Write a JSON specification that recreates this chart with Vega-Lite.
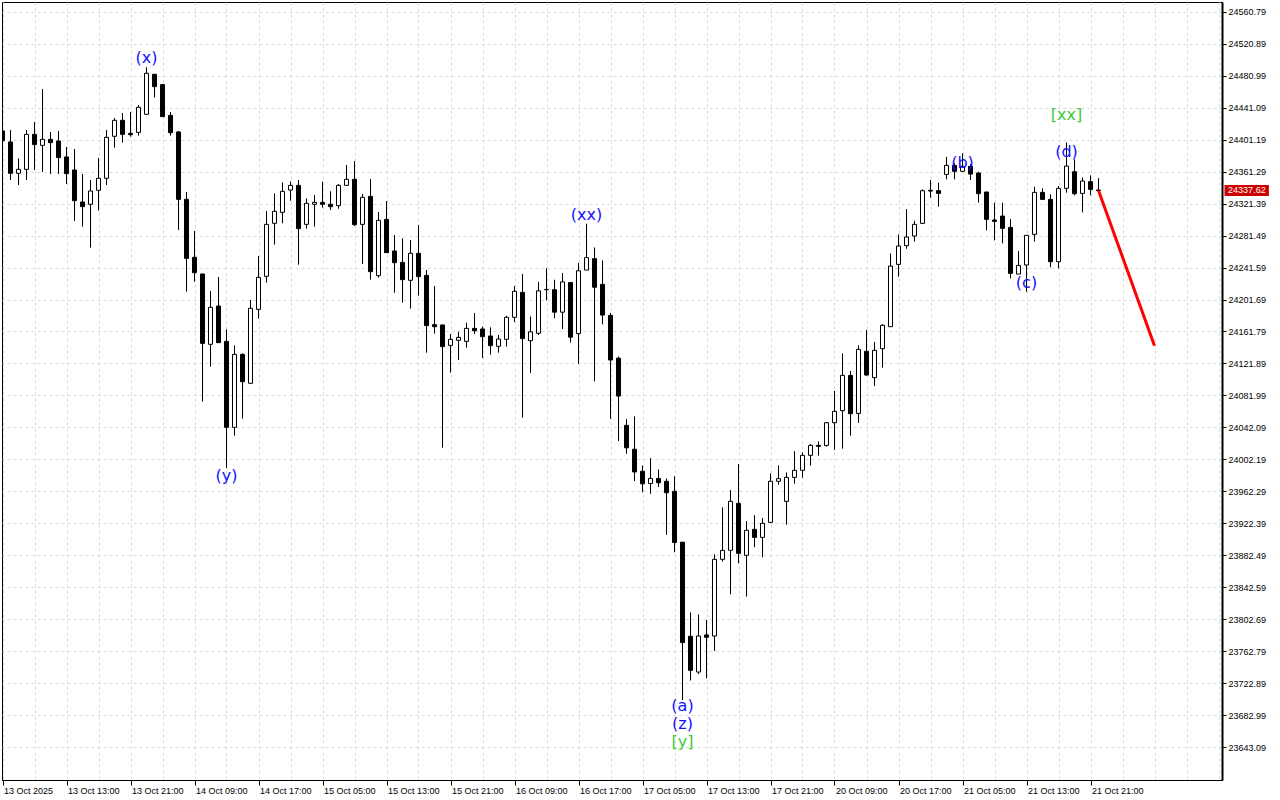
{
  "$schema": "https://vega.github.io/schema/vega-lite/v6.json",
  "width": 1220,
  "height": 778,
  "autosize": "none",
  "padding": {"left": 2, "top": 2, "right": 58, "bottom": 20},
  "background": "white",
  "config": {
    "font": "Liberation Sans",
    "view": {"stroke": "black", "strokeWidth": 1},
    "axis": {"title": null, "labelFont": "Liberation Sans", "labelFontSize": 9, "labelColor": "black", "domainColor": "black", "tickColor": "black", "gridColor": "#dadada", "gridDash": [3, 3], "gridWidth": 1, "labelOverlap": false, "labelFlush": false, "labelBound": false},
    "axisX": {"tickSize": 5, "labelAlign": "left", "labelBaseline": "top", "labelPadding": 1, "labelOffset": 1, "domainWidth": 1},
    "axisY": {"tickSize": 4, "labelAlign": "left", "labelBaseline": "middle", "labelPadding": 2, "domainWidth": 2}
  },
  "datasets": {
    "candles": [
      {"i":0,"open":24411.8,"high":24413.9,"low":24398.1,"close":24399.7},
      {"i":1,"open":24398.1,"high":24413.0,"low":24350.7,"close":24359.0},
      {"i":2,"open":24359.0,"high":24377.7,"low":24344.5,"close":24364.0},
      {"i":3,"open":24364.0,"high":24413.0,"low":24350.7,"close":24407.6},
      {"i":4,"open":24407.6,"high":24423.0,"low":24363.2,"close":24394.8},
      {"i":5,"open":24393.9,"high":24464.2,"low":24360.7,"close":24401.4},
      {"i":6,"open":24401.4,"high":24410.6,"low":24358.2,"close":24397.3},
      {"i":7,"open":24399.3,"high":24411.8,"low":24358.2,"close":24378.6},
      {"i":8,"open":24379.4,"high":24391.9,"low":24345.7,"close":24358.6},
      {"i":9,"open":24363.2,"high":24389.4,"low":24299.6,"close":24324.9},
      {"i":10,"open":24323.3,"high":24358.2,"low":24292.5,"close":24317.5},
      {"i":11,"open":24320.4,"high":24350.7,"low":24266.3,"close":24337.0},
      {"i":12,"open":24337.8,"high":24378.1,"low":24312.5,"close":24352.8},
      {"i":13,"open":24352.8,"high":24413.0,"low":24344.5,"close":24403.9},
      {"i":14,"open":24405.2,"high":24428.0,"low":24391.0,"close":24425.1},
      {"i":15,"open":24425.1,"high":24434.2,"low":24397.3,"close":24407.6},
      {"i":16,"open":24408.9,"high":24435.5,"low":24404.7,"close":24407.2},
      {"i":17,"open":24410.1,"high":24444.2,"low":24406.0,"close":24441.3},
      {"i":18,"open":24432.6,"high":24491.2,"low":24431.8,"close":24483.7},
      {"i":19,"open":24482.5,"high":24482.9,"low":24453.4,"close":24467.1},
      {"i":20,"open":24469.6,"high":24470.4,"low":24429.3,"close":24429.7},
      {"i":21,"open":24431.3,"high":24435.5,"low":24406.0,"close":24409.7},
      {"i":22,"open":24410.6,"high":24411.8,"low":24288.4,"close":24326.6},
      {"i":23,"open":24326.6,"high":24335.7,"low":24211.5,"close":24253.0},
      {"i":24,"open":24254.3,"high":24287.1,"low":24223.9,"close":24235.1},
      {"i":25,"open":24233.5,"high":24233.9,"low":24074.3,"close":24147.0},
      {"i":26,"open":24145.8,"high":24212.3,"low":24117.9,"close":24191.9},
      {"i":27,"open":24193.6,"high":24229.7,"low":24147.9,"close":24147.9},
      {"i":28,"open":24149.5,"high":24164.5,"low":23991.2,"close":24042.3},
      {"i":29,"open":24042.3,"high":24144.5,"low":24031.9,"close":24133.3},
      {"i":30,"open":24133.3,"high":24134.6,"low":24053.1,"close":24099.2},
      {"i":31,"open":24097.2,"high":24201.1,"low":24097.2,"close":24190.7},
      {"i":32,"open":24189.4,"high":24255.9,"low":24177.8,"close":24229.3},
      {"i":33,"open":24230.6,"high":24312.0,"low":24222.7,"close":24295.4},
      {"i":34,"open":24296.7,"high":24334.1,"low":24270.1,"close":24311.6},
      {"i":35,"open":24310.4,"high":24347.8,"low":24296.7,"close":24336.6},
      {"i":36,"open":24338.2,"high":24349.0,"low":24324.9,"close":24344.0},
      {"i":37,"open":24344.0,"high":24350.7,"low":24245.1,"close":24290.0},
      {"i":38,"open":24295.4,"high":24327.8,"low":24290.0,"close":24321.6},
      {"i":39,"open":24320.4,"high":24332.0,"low":24292.5,"close":24322.8},
      {"i":40,"open":24322.8,"high":24348.6,"low":24316.2,"close":24320.4},
      {"i":41,"open":24320.4,"high":24336.6,"low":24313.3,"close":24317.4},
      {"i":42,"open":24318.7,"high":24345.7,"low":24314.9,"close":24344.0},
      {"i":43,"open":24344.0,"high":24369.4,"low":24344.0,"close":24351.5},
      {"i":44,"open":24351.5,"high":24374.4,"low":24293.3,"close":24295.0},
      {"i":45,"open":24295.4,"high":24333.2,"low":24246.0,"close":24329.1},
      {"i":46,"open":24330.3,"high":24351.9,"low":24226.4,"close":24236.4},
      {"i":47,"open":24231.4,"high":24310.8,"low":24228.9,"close":24300.4},
      {"i":48,"open":24301.6,"high":24324.5,"low":24260.1,"close":24260.1},
      {"i":49,"open":24262.2,"high":24282.1,"low":24210.2,"close":24247.6},
      {"i":50,"open":24248.0,"high":24278.0,"low":24197.7,"close":24226.4},
      {"i":51,"open":24225.6,"high":24275.9,"low":24190.3,"close":24259.3},
      {"i":52,"open":24259.3,"high":24294.6,"low":24206.5,"close":24230.2},
      {"i":53,"open":24231.8,"high":24238.5,"low":24135.4,"close":24169.1},
      {"i":54,"open":24170.3,"high":24218.5,"low":24159.1,"close":24167.8},
      {"i":55,"open":24169.9,"high":24170.3,"low":24016.9,"close":24142.9},
      {"i":56,"open":24144.5,"high":24158.7,"low":24110.5,"close":24152.0},
      {"i":57,"open":24150.8,"high":24161.6,"low":24126.3,"close":24154.5},
      {"i":58,"open":24149.5,"high":24172.8,"low":24141.6,"close":24165.7},
      {"i":59,"open":24165.7,"high":24184.9,"low":24158.7,"close":24162.8},
      {"i":60,"open":24164.9,"high":24167.8,"low":24128.7,"close":24155.3},
      {"i":61,"open":24156.2,"high":24167.0,"low":24132.9,"close":24144.1},
      {"i":62,"open":24143.3,"high":24157.4,"low":24135.4,"close":24152.4},
      {"i":63,"open":24152.0,"high":24181.5,"low":24142.9,"close":24179.5},
      {"i":64,"open":24179.5,"high":24218.5,"low":24173.6,"close":24211.9},
      {"i":65,"open":24210.6,"high":24233.5,"low":24054.3,"close":24152.9},
      {"i":66,"open":24150.3,"high":24180.5,"low":24110.2,"close":24161.4},
      {"i":67,"open":24159.6,"high":24223.7,"low":24157.4,"close":24212.5},
      {"i":68,"open":24213.9,"high":24240.6,"low":24200.5,"close":24214.3},
      {"i":69,"open":24213.9,"high":24226.3,"low":24178.3,"close":24185.9},
      {"i":70,"open":24185.9,"high":24234.8,"low":24165.0,"close":24223.7},
      {"i":71,"open":24222.8,"high":24223.2,"low":24148.0,"close":24154.7},
      {"i":72,"open":24159.2,"high":24247.2,"low":24121.4,"close":24237.5},
      {"i":73,"open":24238.4,"high":24296.2,"low":24238.4,"close":24253.9},
      {"i":74,"open":24252.6,"high":24266.6,"low":24099.6,"close":24217.0},
      {"i":75,"open":24220.6,"high":24250.4,"low":24170.7,"close":24182.3},
      {"i":76,"open":24181.9,"high":24185.0,"low":24052.9,"close":24126.2},
      {"i":77,"open":24128.5,"high":24130.7,"low":24025.3,"close":24081.3},
      {"i":78,"open":24044.8,"high":24052.4,"low":24009.3,"close":24016.8},
      {"i":79,"open":24015.0,"high":24056.0,"low":23975.4,"close":23986.6},
      {"i":80,"open":23987.5,"high":23994.6,"low":23961.2,"close":23971.9},
      {"i":81,"open":23972.3,"high":24003.9,"low":23959.4,"close":23978.6},
      {"i":82,"open":23978.6,"high":23989.7,"low":23967.9,"close":23973.2},
      {"i":83,"open":23975.0,"high":23978.6,"low":23908.3,"close":23960.8},
      {"i":84,"open":23962.5,"high":23981.4,"low":23886.5,"close":23898.7},
      {"i":85,"open":23899.1,"high":23899.3,"low":23702.3,"close":23773.9},
      {"i":86,"open":23781.8,"high":23811.5,"low":23726.6,"close":23739.3},
      {"i":87,"open":23737.2,"high":23809.1,"low":23734.7,"close":23782.1},
      {"i":88,"open":23783.4,"high":23802.1,"low":23729.3,"close":23780.5},
      {"i":89,"open":23782.1,"high":23883.9,"low":23763.4,"close":23877.7},
      {"i":90,"open":23877.7,"high":23942.5,"low":23874.8,"close":23888.9},
      {"i":91,"open":23888.9,"high":23964.2,"low":23834.1,"close":23950.0},
      {"i":92,"open":23947.5,"high":23996.6,"low":23872.7,"close":23885.2},
      {"i":93,"open":23882.7,"high":23925.5,"low":23831.2,"close":23913.9},
      {"i":94,"open":23915.1,"high":23932.6,"low":23892.7,"close":23905.1},
      {"i":95,"open":23905.1,"high":23929.2,"low":23880.2,"close":23922.6},
      {"i":96,"open":23923.8,"high":23984.9,"low":23923.8,"close":23975.0},
      {"i":97,"open":23975.0,"high":23994.9,"low":23970.8,"close":23978.3},
      {"i":98,"open":23950.0,"high":23986.2,"low":23920.9,"close":23979.9},
      {"i":99,"open":23979.9,"high":24012.4,"low":23972.0,"close":23988.7},
      {"i":100,"open":23988.7,"high":24011.1,"low":23979.5,"close":24007.4},
      {"i":101,"open":24007.4,"high":24021.5,"low":23994.5,"close":24019.8},
      {"i":102,"open":24019.8,"high":24024.8,"low":24007.0,"close":24018.6},
      {"i":103,"open":24019.8,"high":24048.9,"low":24018.2,"close":24048.1},
      {"i":104,"open":24048.1,"high":24087.6,"low":24014.0,"close":24062.2},
      {"i":105,"open":24063.1,"high":24134.6,"low":24015.7,"close":24107.1},
      {"i":106,"open":24107.1,"high":24112.5,"low":24031.9,"close":24059.3},
      {"i":107,"open":24059.7,"high":24144.5,"low":24047.7,"close":24139.5},
      {"i":108,"open":24137.1,"high":24163.7,"low":24106.7,"close":24107.5},
      {"i":109,"open":24104.2,"high":24148.7,"low":24093.8,"close":24138.3},
      {"i":110,"open":24140.4,"high":24171.1,"low":24116.7,"close":24169.5},
      {"i":111,"open":24167.8,"high":24259.2,"low":24167.8,"close":24243.4},
      {"i":112,"open":24245.5,"high":24282.9,"low":24230.1,"close":24268.4},
      {"i":113,"open":24268.8,"high":24314.5,"low":24265.0,"close":24279.6},
      {"i":114,"open":24280.8,"high":24299.9,"low":24273.8,"close":24295.4},
      {"i":115,"open":24296.6,"high":24339.0,"low":24296.6,"close":24337.3},
      {"i":116,"open":24337.8,"high":24350.6,"low":24328.6,"close":24336.9},
      {"i":117,"open":24337.4,"high":24347.3,"low":24317.4,"close":24334.0},
      {"i":118,"open":24357.7,"high":24379.7,"low":24351.5,"close":24368.9},
      {"i":119,"open":24368.9,"high":24371.4,"low":24351.5,"close":24361.5},
      {"i":120,"open":24361.5,"high":24383.9,"low":24360.6,"close":24367.3},
      {"i":121,"open":24367.7,"high":24370.6,"low":24350.7,"close":24358.1},
      {"i":122,"open":24359.4,"high":24361.0,"low":24322.4,"close":24333.6},
      {"i":123,"open":24335.7,"high":24336.1,"low":24287.9,"close":24301.6},
      {"i":124,"open":24300.8,"high":24322.4,"low":24275.4,"close":24299.1},
      {"i":125,"open":24305.8,"high":24322.4,"low":24271.7,"close":24290.4},
      {"i":126,"open":24291.6,"high":24302.0,"low":24228.0,"close":24234.3},
      {"i":127,"open":24233.4,"high":24262.1,"low":24233.4,"close":24244.2},
      {"i":128,"open":24244.7,"high":24282.1,"low":24211.4,"close":24281.7},
      {"i":129,"open":24282.9,"high":24342.3,"low":24273.8,"close":24335.3},
      {"i":130,"open":24335.3,"high":24340.3,"low":24326.5,"close":24326.5},
      {"i":131,"open":24326.5,"high":24332.8,"low":24241.8,"close":24248.8},
      {"i":132,"open":24248.8,"high":24343.2,"low":24240.5,"close":24340.3},
      {"i":133,"open":24340.3,"high":24397.6,"low":24334.9,"close":24368.1},
      {"i":134,"open":24361.0,"high":24376.4,"low":24331.5,"close":24333.6},
      {"i":135,"open":24334.0,"high":24354.0,"low":24310.3,"close":24349.4},
      {"i":136,"open":24348.6,"high":24356.5,"low":24331.5,"close":24339.0},
      {"i":137,"open":24338.2,"high":24353.1,"low":24337.4,"close":24337.62}
    ],
    "waves": [
      {"i":18,"price":24502.8,"label":"(x)","degree":"minor"},
      {"i":28,"price":23981.6,"label":"(y)","degree":"minor"},
      {"i":73,"price":24307.5,"label":"(xx)","degree":"minor"},
      {"i":85,"price":23695.4,"label":"(a)","degree":"minor"},
      {"i":85,"price":23672.4,"label":"(z)","degree":"minor"},
      {"i":85,"price":23649.4,"label":"[y]","degree":"intermediate"},
      {"i":120,"price":24372.5,"label":"(b)","degree":"minor"},
      {"i":128,"price":24222.3,"label":"(c)","degree":"minor"},
      {"i":133,"price":24385.6,"label":"(d)","degree":"minor"},
      {"i":133,"price":24431.7,"label":"[xx]","degree":"intermediate"}
    ],
    "forecast": [
      {"i":137,"price":24337.62},
      {"i":144,"price":24144.1}
    ],
    "last": [
      {"price":24337.62,"label":"24337.62"}
    ]
  },
  "layer": [
    {
      "mark": {"type": "rule", "color": "#d40000", "strokeWidth": 1},
      "encoding": {
        "y": {"datum": 24337.62, "type": "quantitative", "scale": {"domain": [23602.56, 24572.64], "nice": false, "zero": false, "padding": 0}}
      }
    },
    {
      "data": {"name": "candles"},
      "mark": {"type": "rule", "color": "black", "strokeWidth": 1, "clip": true},
      "encoding": {
        "x": {
          "field": "i", "type": "quantitative",
          "scale": {"domain": [-0.0625, 152.4375], "nice": false, "zero": false, "padding": 0},
          "axis": {
            "title": null,
            "grid": true,
            "tickCount": 100,
            "labelOverlap": false,
            "values": [0,4,8,12,16,20,24,28,32,36,40,44,48,52,56,60,64,68,72,76,80,84,88,92,96,100,104,108,112,116,120,124,128,132,136,140,144,148,152],
            "tickOpacity": {"condition": {"test": "datum.value % 8 === 0 && datum.value <= 136", "value": 1}, "value": 0},
            "labelExpr": "(datum.value % 8 === 0 && datum.value <= 136) ? ['13 Oct 2025','13 Oct 13:00','13 Oct 21:00','14 Oct 09:00','14 Oct 17:00','15 Oct 05:00','15 Oct 13:00','15 Oct 21:00','16 Oct 09:00','16 Oct 17:00','17 Oct 05:00','17 Oct 13:00','17 Oct 21:00','20 Oct 09:00','20 Oct 17:00','21 Oct 05:00','21 Oct 13:00','21 Oct 21:00'][datum.value / 8] : ''"
          }
        },
        "y": {
          "field": "low", "type": "quantitative",
          "scale": {"domain": [23602.56, 24572.64], "nice": false, "zero": false, "padding": 0},
          "axis": {
            "title": null,
            "orient": "right",
            "grid": true,
            "tickCount": 100,
            "labelOverlap": false,
            "format": ".2f",
            "values": [23643.09,23682.99,23722.89,23762.79,23802.69,23842.59,23882.49,23922.39,23962.29,24002.19,24042.09,24081.99,24121.89,24161.79,24201.69,24241.59,24281.49,24321.39,24361.29,24401.19,24441.09,24480.99,24520.89,24560.79]
          }
        },
        "y2": {"field": "high"}
      }
    },
    {
      "data": {"name": "candles"},
      "mark": {"type": "bar", "size": 4, "stroke": "black", "strokeWidth": 1, "clip": true},
      "encoding": {
        "x": {"field": "i", "type": "quantitative"},
        "y": {"field": "open", "type": "quantitative", "axis": {"title": null}},
        "y2": {"field": "close"},
        "fill": {"condition": {"test": "datum.close < datum.open", "value": "black"}, "value": "white"}
      }
    },
    {
      "data": {"name": "forecast"},
      "mark": {"type": "line", "color": "#ff0000", "strokeWidth": 3},
      "encoding": {
        "x": {"field": "i", "type": "quantitative"},
        "y": {"field": "price", "type": "quantitative", "axis": {"title": null}}
      }
    },
    {
      "data": {"name": "waves"},
      "mark": {"type": "text", "font": "DejaVu Sans", "fontSize": 16, "align": "center", "baseline": "middle"},
      "encoding": {
        "x": {"field": "i", "type": "quantitative"},
        "y": {"field": "price", "type": "quantitative", "axis": {"title": null}},
        "text": {"field": "label"},
        "color": {"field": "degree", "type": "nominal", "scale": {"domain": ["minor", "intermediate"], "range": ["#1010ff", "#3cc83c"]}, "legend": null}
      }
    },
    {
      "data": {"name": "last"},
      "mark": {"type": "rect", "color": "#cc0000"},
      "encoding": {
        "x": {"datum": 152.75, "type": "quantitative"},
        "x2": {"datum": 158.3},
        "y": {"datum": 24330.8, "type": "quantitative"},
        "y2": {"datum": 24344.4}
      }
    },
    {
      "data": {"name": "last"},
      "mark": {"type": "text", "color": "white", "font": "Liberation Sans", "fontSize": 9, "align": "left", "baseline": "middle"},
      "encoding": {
        "x": {"datum": 153.2, "type": "quantitative"},
        "y": {"field": "price", "type": "quantitative", "axis": {"title": null}},
        "text": {"field": "label"}
      }
    }
  ]
}
